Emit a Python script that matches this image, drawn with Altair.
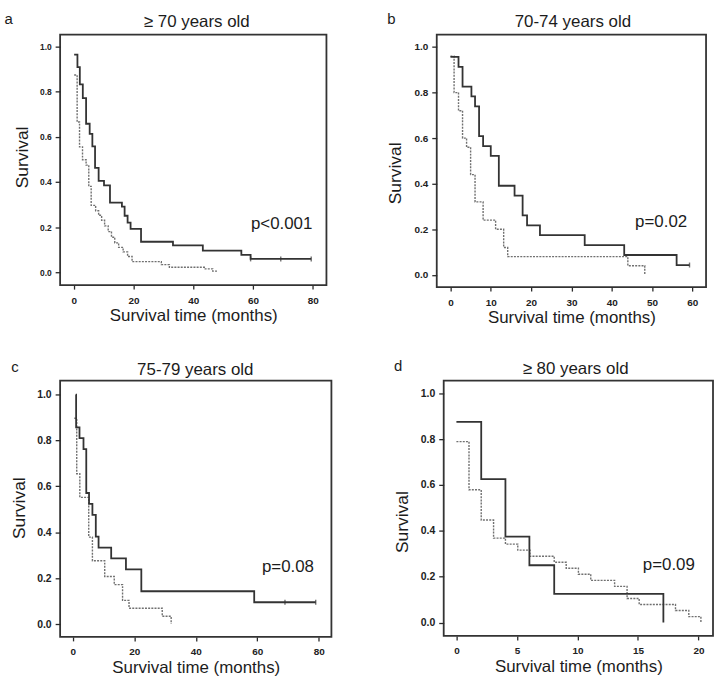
import altair as alt
import pandas as pd

FONT = "Liberation Sans"
INK = "#1c1c1c"
SOLID_COLOR = "#333333"
DASH_COLOR = "#707070"

# ---------------- survival step data (time in months, survival) ----------------
# a: >= 70 years old
A_SOLID_T = [0.1, 1.2, 2.0, 3.0, 4.1, 5.3, 6.2, 7.1, 8.3, 10.1, 12.1, 16.1, 17.0,
             18.0, 19.0, 22.5, 33.2, 43.2, 56.1, 59.2, 79.5]
A_SOLID_S = [0.963, 0.908, 0.831, 0.770, 0.657, 0.612, 0.557, 0.462, 0.404, 0.384,
             0.308, 0.290, 0.250, 0.220, 0.192, 0.135, 0.119, 0.096, 0.077, 0.059, 0.059]
A_DASH_T = [0.1, 1.1, 1.9, 2.9, 4.1, 5.0, 5.8, 7.3, 8.3, 9.3, 10.3, 11.5, 12.6, 13.7,
            15.0, 16.5, 18.0, 19.5, 29.3, 32.0, 44.0, 46.5, 48.0]
A_DASH_S = [0.873, 0.665, 0.555, 0.498, 0.474, 0.380, 0.296, 0.272, 0.252, 0.230,
            0.205, 0.180, 0.155, 0.130, 0.110, 0.090, 0.070, 0.047, 0.034, 0.022,
            0.015, 0.005, 0.005]
A_CENS_T = [59.2, 69.3, 79.5]
A_CENS_S = [0.059, 0.059, 0.059]

# b: 70-74 years old
B_SOLID_T = [0.0, 2.0, 3.0, 5.2, 6.1, 7.1, 8.1, 10.0, 12.0, 15.9, 17.9, 19.0, 22.2,
             33.3, 43.1, 56.1, 59.3]
B_SOLID_S = [0.957, 0.913, 0.826, 0.783, 0.739, 0.609, 0.565, 0.522, 0.391, 0.348,
             0.261, 0.217, 0.174, 0.130, 0.087, 0.043, 0.043]
B_DASH_T = [0.0, 0.9, 2.0, 3.0, 4.0, 5.0, 6.1, 8.1, 11.2, 13.2, 14.2, 44.0, 48.2]
B_DASH_S = [0.96, 0.80, 0.72, 0.60, 0.56, 0.44, 0.32, 0.24, 0.20, 0.12, 0.08, 0.04, 0.00]
B_CENS_T = [59.3]
B_CENS_S = [0.043]

# c: 75-79 years old
C_SOLID_T = [1.0, 1.1, 2.2, 3.5, 4.4, 5.3, 6.4, 7.5, 8.4, 12.5, 17.3, 22.3, 59.0, 79.0]
C_SOLID_S = [1.0, 0.857, 0.810, 0.762, 0.571, 0.524, 0.476, 0.381, 0.333, 0.286,
             0.238, 0.143, 0.095, 0.095]
C_DASH_T = [0.5, 1.3, 2.3, 5.2, 6.4, 10.4, 13.5, 16.2, 18.3, 29.1, 32.0]
C_DASH_S = [0.897, 0.655, 0.552, 0.379, 0.276, 0.207, 0.172, 0.103, 0.069, 0.034, 0.0]
C_CENS_T = [69.0, 79.0]
C_CENS_S = [0.095, 0.095]

# d: >= 80 years old
D_SOLID_T = [0.0, 2.05, 4.05, 6.03, 8.08, 17.1]
D_SOLID_S = [0.875, 0.625, 0.375, 0.250, 0.125, 0.0]
D_DASH_T = [0.0, 1.04, 2.05, 3.07, 4.05, 5.07, 6.08, 8.08, 9.07, 10.08, 11.1, 13.07,
            14.1, 15.1, 18.1, 19.2, 20.2]
D_DASH_S = [0.789, 0.579, 0.447, 0.368, 0.342, 0.316, 0.289, 0.263, 0.237, 0.211,
            0.184, 0.158, 0.105, 0.079, 0.053, 0.026, 0.0]
D_CENS_T = []
D_CENS_S = []

PANEL_LETTERS = ["a", "b", "c", "d"]
PANEL_TITLES = ["\u2265 70 years old", "70-74 years old", "75-79 years old", "\u2265 80 years old"]
P_LABELS = ["p<0.001", "p=0.02", "p=0.08", "p=0.09"]
P_T = [59.3, 45.8, 61.5, 15.4]
P_S = [0.212, 0.230, 0.250, 0.250]

X_DOMAINS = [[-4.6, 84.6], [-3.4, 63.4], [-4.1, 84.1], [-1.05, 21.2]]
X_TICKS = [[0, 20, 40, 60, 80], [0, 10, 20, 30, 40, 50, 60], [0, 20, 40, 60, 80],
           [0, 5, 10, 15, 20]]
Y_TICKS = [0.0, 0.2, 0.4, 0.6, 0.8, 1.0]


def km(times, surv):
    return pd.DataFrame({"t": times, "s": surv})


def panel(i, solid_t, solid_s, dash_t, dash_s, cens_t, cens_s, width, height,
          y_domain, letter_xy, title_xy, y_title_xy, y_label_size):
    x = alt.X(
        "t:Q",
        scale=alt.Scale(domain=X_DOMAINS[i], nice=False, zero=False),
        axis=alt.Axis(
            values=X_TICKS[i], format="d", grid=False, domain=False,
            tickSize=4, tickColor="#2a2a2a", tickWidth=1.3,
            labelFont=FONT, labelFontSize=10, labelFontWeight="bold",
            labelColor="#222", labelPadding=6,
            title="Survival time (months)", titleFont=FONT, titleFontSize=17,
            titleFontWeight="normal", titleColor=INK, titleBaseline="alphabetic",
            titleAlign="center", titleX=width / 2, titleY=36,
        ),
    )
    y = alt.Y(
        "s:Q",
        scale=alt.Scale(domain=y_domain, nice=False, zero=False),
        axis=alt.Axis(
            values=Y_TICKS, format=".1f", grid=False, domain=False,
            tickSize=5, tickColor="#2a2a2a", tickWidth=1.3,
            labelFont=FONT, labelFontSize=y_label_size, labelFontWeight="bold",
            labelColor="#222", labelPadding=4,
            title="Survival", titleFont=FONT, titleFontSize=17.5,
            titleFontWeight="normal", titleColor=INK, titleBaseline="alphabetic",
            titleAlign="center", titleAngle=270,
            titleX=y_title_xy[0], titleY=y_title_xy[1],
        ),
    )

    dashed = alt.Chart(km(dash_t, dash_s)).mark_line(
        interpolate="step-after", color=DASH_COLOR, strokeWidth=1.4, strokeDash=[2, 1.2]
    ).encode(x=x, y=y)
    solid = alt.Chart(km(solid_t, solid_s)).mark_line(
        interpolate="step-after", color=SOLID_COLOR, strokeWidth=1.8
    ).encode(x=x, y=y)
    layers = [dashed, solid]
    if cens_t:
        layers.append(
            alt.Chart(km(cens_t, cens_s)).mark_tick(
                orient="vertical", size=5, thickness=1.4, color=SOLID_COLOR
            ).encode(x=x, y=y)
        )
    p_df = pd.DataFrame({"t": [P_T[i]], "s": [P_S[i]], "label": [P_LABELS[i]]})
    layers.append(
        alt.Chart(p_df).mark_text(
            align="left", baseline="middle", font=FONT, fontSize=17, color=INK
        ).encode(x=x, y=y, text="label:N")
    )
    one = pd.DataFrame({"k": [0]})
    layers.append(
        alt.Chart(one).mark_text(
            text=PANEL_TITLES[i], align="center", baseline="alphabetic",
            font=FONT, fontSize=17, color=INK
        ).encode(x=alt.value(title_xy[0]), y=alt.value(title_xy[1]))
    )
    layers.append(
        alt.Chart(one).mark_text(
            text=PANEL_LETTERS[i], align="left", baseline="alphabetic",
            font=FONT, fontSize=15, color=INK
        ).encode(x=alt.value(letter_xy[0]), y=alt.value(letter_xy[1]))
    )
    return alt.layer(*layers).properties(width=width, height=height)


pa = panel(0, A_SOLID_T, A_SOLID_S, A_DASH_T, A_DASH_S, A_CENS_T, A_CENS_S,
           268, 252, [-0.057, 1.051], (-56, -10.7), (137.5, -8), (-33.3, 123), 8.5)
pb = panel(1, B_SOLID_T, B_SOLID_S, B_DASH_T, B_DASH_S, B_CENS_T, B_CENS_S,
           271, 254, [-0.054, 1.054], (-49.7, -10.7), (137, -8), (-36.4, 139), 10)
pc = panel(2, C_SOLID_T, C_SOLID_S, C_DASH_T, C_DASH_S, C_CENS_T, C_CENS_S,
           273, 258, [-0.056, 1.061], (-49.3, -8.3), (136, -6), (-35.6, 128), 10.5)
pd_ = panel(3, D_SOLID_T, D_SOLID_S, D_DASH_T, D_DASH_S, D_CENS_T, D_CENS_S,
            271, 257, [-0.058, 1.055], (-50, -10), (132.7, -6.7), (-36.3, 142), 10.5)

row1 = alt.hconcat(pa, pb, spacing=58)
row2 = alt.hconcat(pc, pd_, spacing=60)

chart = alt.vconcat(row1, row2, spacing=31).properties(
    padding={"left": 3.5, "top": 8.8, "right": 0, "bottom": 0},
    background="white",
).configure_view(
    stroke="#333333", strokeWidth=1.8
)

chart.save("out.html", embed_options={"renderer": "svg", "actions": False})
